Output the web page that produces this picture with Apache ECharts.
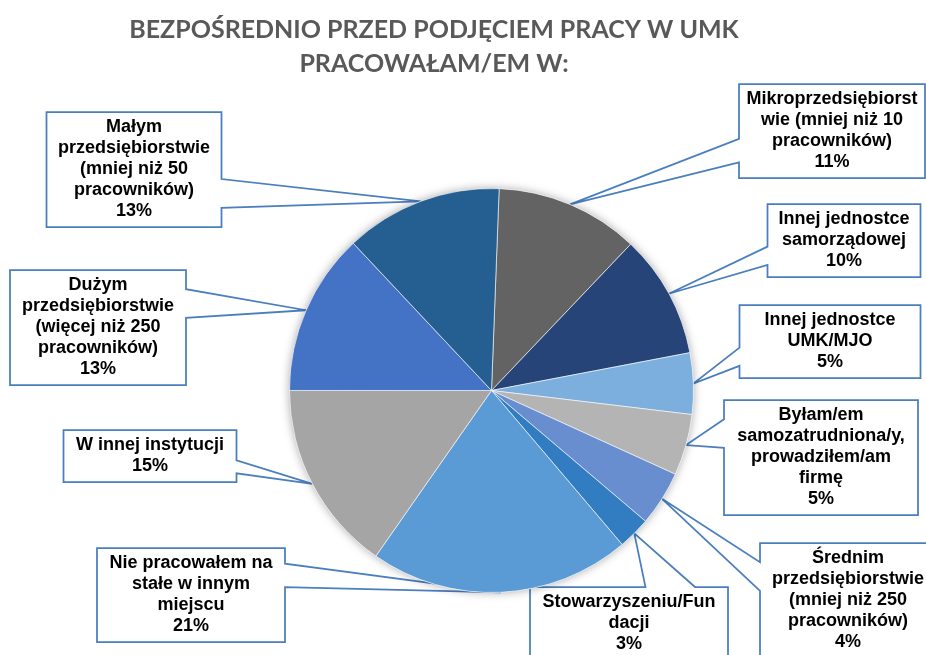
<!DOCTYPE html>
<html lang="pl">
<head>
<meta charset="utf-8">
<title>Przed podjęciem pracy w UMK</title>
<script src="https://cdn.jsdelivr.net/npm/echarts@6/dist/echarts.min.js"></script>
<style>
    html, body { margin: 0; padding: 0; background: #fff; }
    #main { width: 926px; height: 655px; }
</style>
</head>
<body>
<div id="main"></div>
<script>
// kategorie - łamanie wierszy jak na oryginale
var categories = [
    'Mikroprzedsiębiorst\nwie (mniej niż 10\npracowników)',
    'Innej jednostce\nsamorządowej',
    'Innej jednostce\nUMK/MJO',
    'Byłam/em\nsamozatrudniona/y,\nprowadziłem/am\nfirmę',
    'Średnim\nprzedsiębiorstwie\n(mniej niż 250\npracowników)',
    'Stowarzyszeniu/Fun\ndacji',
    'Nie pracowałem na\nstałe w innym\nmiejscu',
    'W innej instytucji',
    'Dużym\nprzedsiębiorstwie\n(więcej niż 250\npracowników)',
    'Małym\nprzedsiębiorstwie\n(mniej niż 50\npracowników)'
];
var values = [11.5, 9.9, 4.9, 4.9, 4.4, 2.6, 20.9, 15.3, 13.0, 12.6];
var colors = ['#636363', '#264478', '#7cafdd', '#b4b4b4', '#698ed0',
              '#327dc2', '#5b9bd5', '#a5a5a5', '#4472c4', '#255e91'];

// ramki opisów: srodek x, gora y, szerokosc
var boxes = [
    [832, 84, 186],
    [844, 204, 153],
    [830, 305, 181],
    [821, 400, 194],
    [848, 543, 176],
    [629, 587, 198],
    [191, 548, 188],
    [150, 430, 173],
    [98, 270, 176],
    [134, 112, 175]
];
var lineH = 21, pad = 5;

function boxHeight(i) {
    return (categories[i].split('\n').length + 1) * lineH + pad * 2;
}

var myChart = echarts.init(document.getElementById('main'));

var pieData = [];
var shadowData = [];
for (var i = 0; i < values.length; i++) {
    pieData.push({ name: categories[i], value: values[i], itemStyle: { color: colors[i] } });
    shadowData.push({ name: categories[i], value: values[i] });
}

var option = {
    backgroundColor: '#fff',
    animation: false,
    title: {
        text: 'BEZPOŚREDNIO PRZED PODJĘCIEM PRACY W UMK\nPRACOWAŁAM/EM W:',
        left: 429,
        top: 8,
        textAlign: 'center',
        textStyle: {
            fontFamily: 'Lato',
            fontWeight: 'bold',
            fontSize: 25,
            lineHeight: 34,
            color: '#595959'
        }
    },
    series: [
        {
            // tylko cien pod kolem
            type: 'pie',
            silent: true,
            center: [491.5, 390.5],
            radius: 202,
            startAngle: 87.83,
            label: { show: false },
            labelLine: { show: false },
            itemStyle: {
                color: '#fff',
                shadowBlur: 10,
                shadowColor: 'rgba(0,0,0,0.35)'
            },
            data: shadowData
        },
        {
            type: 'pie',
            center: [491.5, 390.5],
            radius: 202,
            startAngle: 87.83,
            percentPrecision: 0,
            avoidLabelOverlap: false,
            itemStyle: { borderColor: '#fff', borderWidth: 0.6 },
            label: {
                show: true,
                position: 'outside',
                formatter: '{b}\n{d}%',
                fontFamily: 'Liberation Sans, Arial',
                fontWeight: 'bold',
                fontSize: 18,
                lineHeight: lineH,
                color: '#000'
            },
            labelLine: { show: false },
            labelLayout: function (params) {
                var b = boxes[params.dataIndex];
                return { x: b[0], y: b[1] + pad, align: 'center', verticalAlign: 'top' };
            },
            data: pieData
        }
    ]
};
myChart.setOption(option);

// ramki w stylu "objasnienie" z Excela - klin do srodka wycinka
function calloutPoints(i, tx, ty) {
    var w = boxes[i][2], h = boxHeight(i);
    var x0 = boxes[i][0] - w / 2, y0 = boxes[i][1];
    var dx = tx - (x0 + w / 2), dy = ty - (y0 + h / 2);
    if (Math.abs(dx) * h / w > Math.abs(dy)) {
        var ya = dy > 0 ? y0 + h * 7 / 12 : y0 + h * 2 / 12;
        var yb = dy > 0 ? y0 + h * 10 / 12 : y0 + h * 5 / 12;
        if (dx < 0) {
            return [[x0, y0], [x0 + w, y0], [x0 + w, y0 + h], [x0, y0 + h], [x0, yb], [tx, ty], [x0, ya]];
        }
        return [[x0, y0], [x0 + w, y0], [x0 + w, ya], [tx, ty], [x0 + w, yb], [x0 + w, y0 + h], [x0, y0 + h]];
    }
    var xa = dx > 0 ? x0 + w * 7 / 12 : x0 + w * 2 / 12;
    var xb = dx > 0 ? x0 + w * 10 / 12 : x0 + w * 5 / 12;
    if (dy < 0) {
        return [[x0, y0], [xa, y0], [tx, ty], [xb, y0], [x0 + w, y0], [x0 + w, y0 + h], [x0, y0 + h]];
    }
    return [[x0, y0], [x0 + w, y0], [x0 + w, y0 + h], [xb, y0 + h], [tx, ty], [xa, y0 + h], [x0, y0 + h]];
}

var pie = myChart.getModel().getSeriesByIndex(1).getData();
var callouts = [];
for (var k = 0; k < values.length; k++) {
    var lay = pie.getItemLayout(k);
    var mid = (lay.startAngle + lay.endAngle) / 2;
    var tx = lay.cx + lay.r * Math.cos(mid);
    var ty = lay.cy + lay.r * Math.sin(mid);
    callouts.push({
        type: 'polygon',
        z: 0,
        silent: true,
        shape: { points: calloutPoints(k, tx, ty) },
        style: { fill: '#fff', stroke: '#4a7ebf', lineWidth: 1.75 }
    });
}
myChart.setOption({ graphic: callouts });
</script>
</body>
</html>
